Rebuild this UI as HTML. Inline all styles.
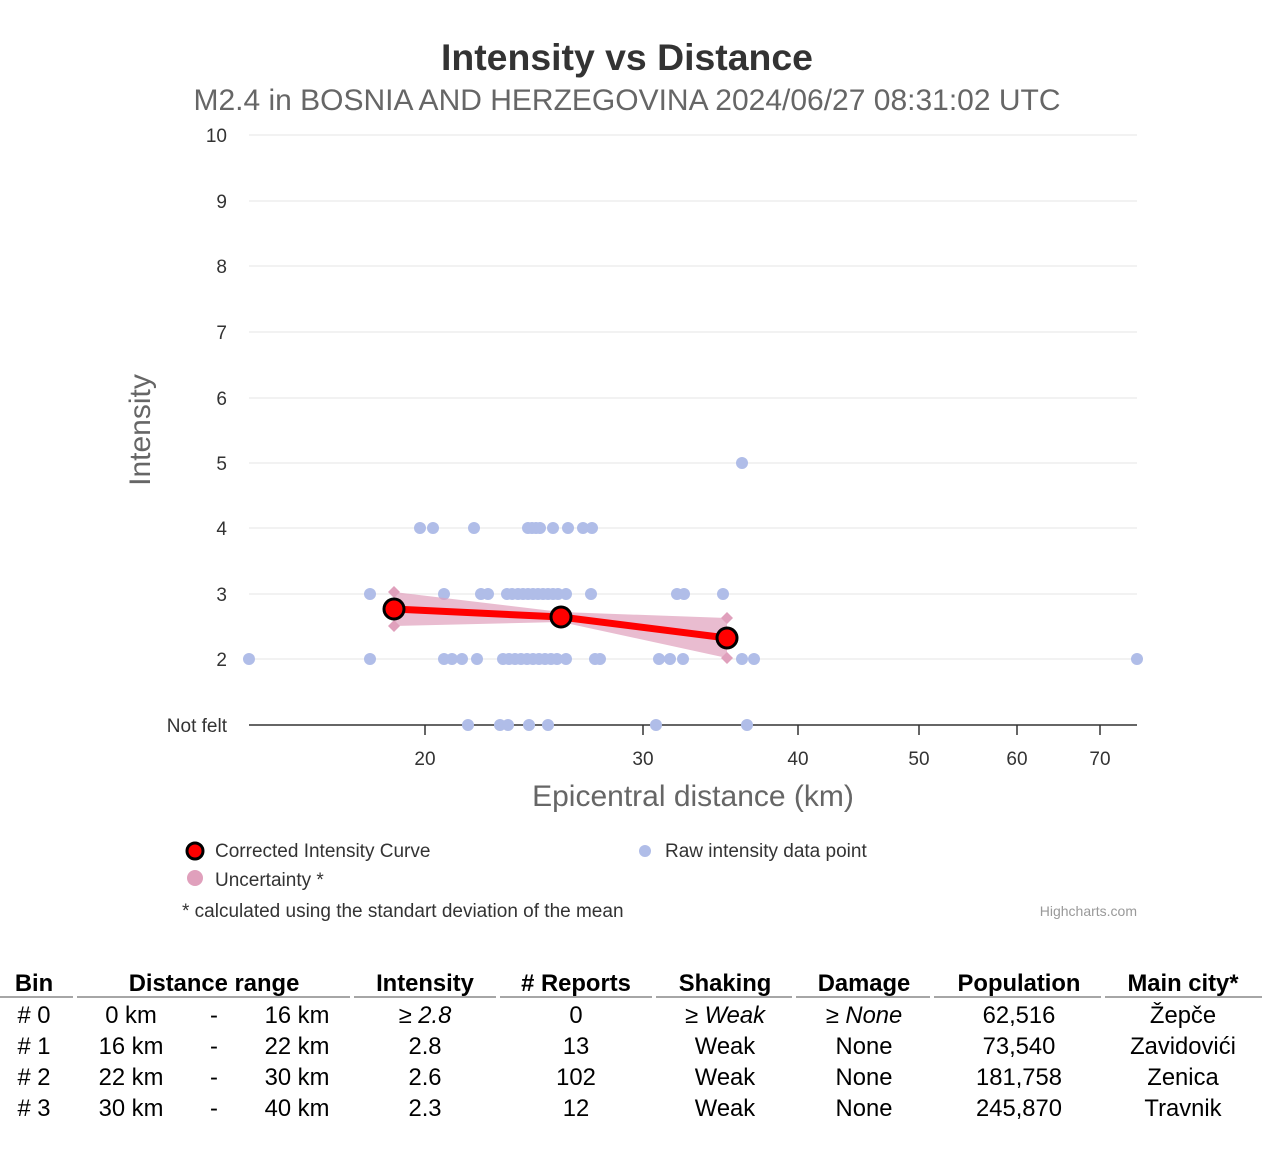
<!DOCTYPE html>
<html><head><meta charset="utf-8"><style>
body{margin:0;background:#fff;width:1262px;height:1158px;overflow:hidden;font-family:"Liberation Sans",sans-serif}
svg{position:absolute;left:0;top:0}
</style></head><body>
<svg width="1262" height="1158" xmlns="http://www.w3.org/2000/svg" font-family="Liberation Sans, sans-serif">
<text x="627" y="70" text-anchor="middle" font-size="37.4" font-weight="bold" fill="#333">Intensity vs Distance</text>
<text x="627" y="110" text-anchor="middle" font-size="30" fill="#666">M2.4 in BOSNIA AND HERZEGOVINA 2024/06/27 08:31:02 UTC</text>
<g stroke="#e6e6e6" stroke-width="1">
<line x1="249" x2="1137" y1="135" y2="135"/><line x1="249" x2="1137" y1="201" y2="201"/><line x1="249" x2="1137" y1="266" y2="266"/><line x1="249" x2="1137" y1="332" y2="332"/><line x1="249" x2="1137" y1="398" y2="398"/><line x1="249" x2="1137" y1="463" y2="463"/><line x1="249" x2="1137" y1="528" y2="528"/><line x1="249" x2="1137" y1="594" y2="594"/><line x1="249" x2="1137" y1="659" y2="659"/>
</g>
<line x1="249" x2="1137" y1="725" y2="725" stroke="#333" stroke-width="1.5"/>
<g stroke="#333" stroke-width="1.5"><line x1="425" x2="425" y1="725" y2="735"/><line x1="643" x2="643" y1="725" y2="735"/><line x1="798" x2="798" y1="725" y2="735"/><line x1="919" x2="919" y1="725" y2="735"/><line x1="1017" x2="1017" y1="725" y2="735"/><line x1="1100" x2="1100" y1="725" y2="735"/></g>
<g font-size="19" fill="#333" text-anchor="end">
<text x="227" y="142">10</text><text x="227" y="208">9</text><text x="227" y="273">8</text><text x="227" y="339">7</text><text x="227" y="405">6</text><text x="227" y="470">5</text><text x="227" y="535">4</text><text x="227" y="601">3</text><text x="227" y="666">2</text><text x="227" y="732">Not felt</text>
</g>
<g font-size="19" fill="#333" text-anchor="middle">
<text x="425" y="765">20</text><text x="643" y="765">30</text><text x="798" y="765">40</text><text x="919" y="765">50</text><text x="1017" y="765">60</text><text x="1100" y="765">70</text>
</g>
<text x="693" y="806" text-anchor="middle" font-size="30" fill="#666">Epicentral distance (km)</text>
<text transform="translate(150,430) rotate(-90)" text-anchor="middle" font-size="30" fill="#666">Intensity</text>
<g fill="#b0bde8">
<circle cx="742" cy="463" r="6"/>
<circle cx="420" cy="528" r="6"/><circle cx="433" cy="528" r="6"/><circle cx="474" cy="528" r="6"/><circle cx="528" cy="528" r="6"/><circle cx="532" cy="528" r="6"/><circle cx="536" cy="528" r="6"/><circle cx="540" cy="528" r="6"/><circle cx="553" cy="528" r="6"/><circle cx="568" cy="528" r="6"/><circle cx="583" cy="528" r="6"/><circle cx="592" cy="528" r="6"/>
<circle cx="370" cy="594" r="6"/><circle cx="444" cy="594" r="6"/><circle cx="481" cy="594" r="6"/><circle cx="488" cy="594" r="6"/><circle cx="507" cy="594" r="6"/><circle cx="512" cy="594" r="6"/><circle cx="518" cy="594" r="6"/><circle cx="523" cy="594" r="6"/><circle cx="528" cy="594" r="6"/><circle cx="533" cy="594" r="6"/><circle cx="538" cy="594" r="6"/><circle cx="543" cy="594" r="6"/><circle cx="548" cy="594" r="6"/><circle cx="553" cy="594" r="6"/><circle cx="558" cy="594" r="6"/><circle cx="566" cy="594" r="6"/><circle cx="591" cy="594" r="6"/><circle cx="677" cy="594" r="6"/><circle cx="684" cy="594" r="6"/><circle cx="723" cy="594" r="6"/>
<circle cx="249" cy="659" r="6"/><circle cx="370" cy="659" r="6"/><circle cx="444" cy="659" r="6"/><circle cx="452" cy="659" r="6"/><circle cx="462" cy="659" r="6"/><circle cx="477" cy="659" r="6"/><circle cx="503" cy="659" r="6"/><circle cx="509" cy="659" r="6"/><circle cx="515" cy="659" r="6"/><circle cx="521" cy="659" r="6"/><circle cx="527" cy="659" r="6"/><circle cx="533" cy="659" r="6"/><circle cx="539" cy="659" r="6"/><circle cx="545" cy="659" r="6"/><circle cx="551" cy="659" r="6"/><circle cx="557" cy="659" r="6"/><circle cx="566" cy="659" r="6"/><circle cx="595" cy="659" r="6"/><circle cx="600" cy="659" r="6"/><circle cx="659" cy="659" r="6"/><circle cx="670" cy="659" r="6"/><circle cx="683" cy="659" r="6"/><circle cx="742" cy="659" r="6"/><circle cx="754" cy="659" r="6"/><circle cx="1137" cy="659" r="6"/>
<circle cx="468" cy="725" r="6"/><circle cx="500" cy="725" r="6"/><circle cx="508" cy="725" r="6"/><circle cx="529" cy="725" r="6"/><circle cx="548" cy="725" r="6"/><circle cx="656" cy="725" r="6"/><circle cx="747" cy="725" r="6"/>
</g>
<polygon points="394,592 561,612 727,618 727,658 561,622 394,626" fill="#e0a0bc" fill-opacity="0.7"/>
<g fill="#e0a0bc"><path d="M394 586l6 6-6 6-6-6z"/><path d="M394 620l6 6-6 6-6-6z"/><path d="M727 612l6 6-6 6-6-6z"/><path d="M727 652l6 6-6 6-6-6z"/></g>
<polyline points="394,609 561,617 727,638" fill="none" stroke="#f00" stroke-width="7"/>
<g fill="#f00" stroke="#000" stroke-width="3"><circle cx="394" cy="609" r="10"/><circle cx="561" cy="617" r="10"/><circle cx="727" cy="638" r="10"/></g>
<circle cx="195" cy="851" r="8" fill="#f00" stroke="#000" stroke-width="3"/>
<text x="215" y="857" font-size="19" fill="#333">Corrected Intensity Curve</text>
<circle cx="195" cy="878" r="8" fill="#e0a0bc"/>
<text x="215" y="886" font-size="19" fill="#333">Uncertainty *</text>
<circle cx="645" cy="851" r="6" fill="#b0bde8"/>
<text x="665" y="857" font-size="19" fill="#333">Raw intensity data point</text>
<text x="182" y="917" font-size="19" fill="#333">* calculated using the standart deviation of the mean</text>
<text x="1137" y="916" text-anchor="end" font-size="14" fill="#999">Highcharts.com</text>
<g font-size="23.8" font-weight="bold" fill="#000" text-anchor="middle">
<text x="34" y="991">Bin</text><text x="214" y="991">Distance range</text><text x="425" y="991">Intensity</text><text x="576" y="991"># Reports</text><text x="725" y="991">Shaking</text><text x="864" y="991">Damage</text><text x="1019" y="991">Population</text><text x="1183" y="991">Main city*</text>
</g>
<g stroke="#888" stroke-width="1.5"><line x1="0" x2="73" y1="997" y2="997"/><line x1="77" x2="350" y1="997" y2="997"/><line x1="354" x2="496" y1="997" y2="997"/><line x1="500" x2="652" y1="997" y2="997"/><line x1="656" x2="792" y1="997" y2="997"/><line x1="796" x2="930" y1="997" y2="997"/><line x1="934" x2="1101" y1="997" y2="997"/><line x1="1105" x2="1262" y1="997" y2="997"/></g>
<g font-size="23.8" fill="#000" text-anchor="middle">
<text x="34" y="1023"># 0</text><text x="131" y="1023">0 km</text><text x="214" y="1023">-</text><text x="297" y="1023">16 km</text><text x="425" y="1023">≥ <tspan font-style="italic">2.8</tspan></text><text x="576" y="1023">0</text><text x="725" y="1023">≥ <tspan font-style="italic">Weak</tspan></text><text x="864" y="1023">≥ <tspan font-style="italic">None</tspan></text><text x="1019" y="1023">62,516</text><text x="1183" y="1023">Žepče</text>
<text x="34" y="1054"># 1</text><text x="131" y="1054">16 km</text><text x="214" y="1054">-</text><text x="297" y="1054">22 km</text><text x="425" y="1054">2.8</text><text x="576" y="1054">13</text><text x="725" y="1054">Weak</text><text x="864" y="1054">None</text><text x="1019" y="1054">73,540</text><text x="1183" y="1054">Zavidovići</text>
<text x="34" y="1085"># 2</text><text x="131" y="1085">22 km</text><text x="214" y="1085">-</text><text x="297" y="1085">30 km</text><text x="425" y="1085">2.6</text><text x="576" y="1085">102</text><text x="725" y="1085">Weak</text><text x="864" y="1085">None</text><text x="1019" y="1085">181,758</text><text x="1183" y="1085">Zenica</text>
<text x="34" y="1116"># 3</text><text x="131" y="1116">30 km</text><text x="214" y="1116">-</text><text x="297" y="1116">40 km</text><text x="425" y="1116">2.3</text><text x="576" y="1116">12</text><text x="725" y="1116">Weak</text><text x="864" y="1116">None</text><text x="1019" y="1116">245,870</text><text x="1183" y="1116">Travnik</text>
</g>
</svg>
</body></html>
